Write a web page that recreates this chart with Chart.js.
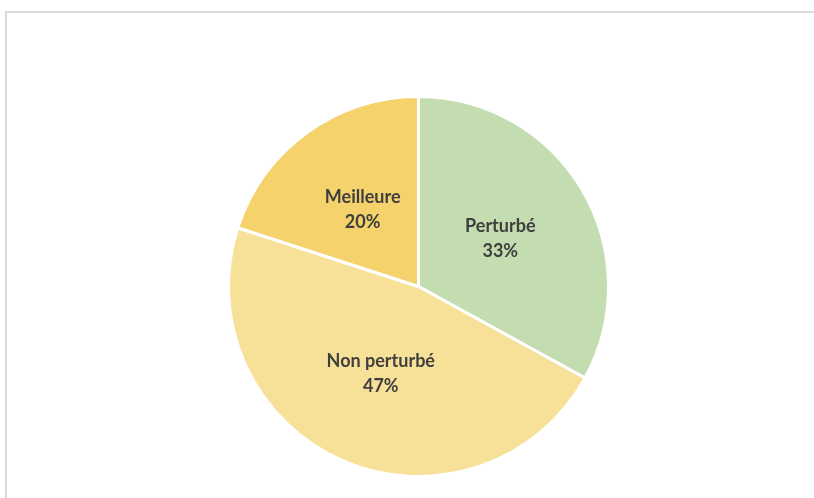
<!DOCTYPE html>
<html>
<head>
<meta charset="utf-8">
<script src="https://cdn.jsdelivr.net/npm/chart.js@4.4.0/dist/chart.umd.min.js"></script>
<style>
  html, body { margin: 0; padding: 0; background: #fff; overflow: hidden; }
  #wrap { position: relative; width: 814px; height: 498px; }
  #frame {
    position: absolute; left: 5px; top: 11px; width: 900px; height: 600px;
    border-left: 2px solid #d9d9d9; border-top: 2px solid #d9d9d9;
  }
  canvas { position: absolute; left: 0; top: 0; }
</style>
</head>
<body>
<div id="wrap">
  <div id="frame"></div>
  <canvas id="pie" width="814" height="498"></canvas>
</div>
<script>
// data, clockwise from 12 o'clock
const categories = ['Perturbé', 'Non perturbé', 'Meilleure'];
const shares = [33, 47, 20];
const sliceColors = ['#c3dcb0', '#f7e199', '#f5d26c'];

// draws "name / pct%" on each slice, halfway out along the mid-angle
const sliceLabels = {
    id: 'sliceLabels',
    afterDatasetsDraw(chart) {
        const ctx = chart.ctx;
        const arcs = chart.getDatasetMeta(0).data;
        ctx.save();
        ctx.fillStyle = '#3f3f3f';
        ctx.font = 'bold 18px Lato, "Open Sans", sans-serif';
        ctx.textAlign = 'center';
        ctx.textBaseline = 'middle';
        arcs.forEach((arc, i) => {
            const p = arc.getCenterPoint();
            ctx.fillText(categories[i], p.x, p.y - 12);
            ctx.fillText(shares[i] + '%', p.x, p.y + 13);
        });
        ctx.restore();
    }
};

new Chart(document.getElementById('pie'), {
    type: 'pie',
    data: {
        labels: categories,
        datasets: [{
            data: shares,
            backgroundColor: sliceColors,
            borderColor: '#ffffff',
            borderWidth: 3
        }]
    },
    options: {
        responsive: false,
        animation: false,
        layout: { padding: { top: 95, bottom: 20, left: 227, right: 204 } },
        plugins: {
            legend: { display: false },
            tooltip: { enabled: false }
        }
    },
    plugins: [sliceLabels]
});
</script>
</body>
</html>
